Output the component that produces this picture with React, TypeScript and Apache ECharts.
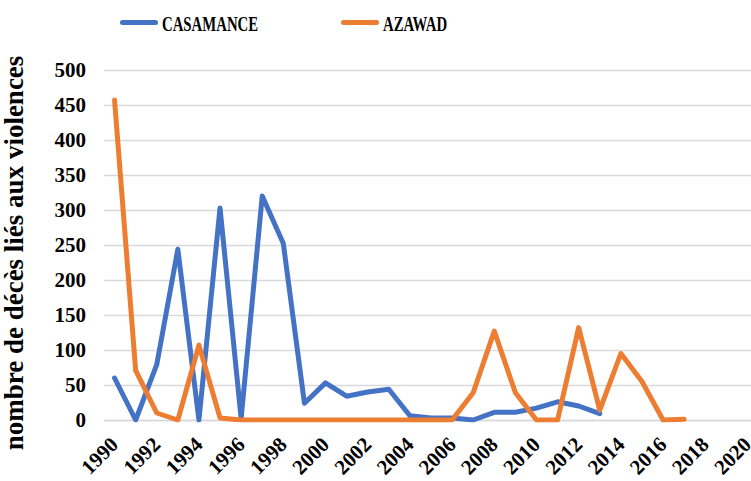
import React, { useEffect, useRef } from "react";
import * as echarts from "echarts";

const years: string[] = [];
for (let y = 1990; y <= 2020; y++) years.push(String(y));

const casamance = [60, 0, 79, 244, 0, 303, 2, 320, 252, 24, 53, 34, 40, 44, 6, 3, 3, 0, 11, 11, 17, 26, 20, 9];
const azawad = [457, 71, 10, 0, 107, 3, 0, 0, 0, 0, 0, 0, 0, 0, 0, 0, 0, 39, 127, 39, 0, 0, 132, 14, 95, 55, 0, 1];

const seriesNames = ["CASAMANCE", "AZAWAD"];
const seriesColors = ["#4472C4", "#ED7D31"];
const yAxisTitle = "nombre de décès liés aux violences";

const FONT = "Liberation Serif";

export default function App() {
  const ref = useRef<HTMLDivElement>(null);
  useEffect(() => {
    document.body.style.margin = "0";
    const chart = echarts.init(ref.current!, null, { renderer: "svg" });
    const legendX = [120, 341];
    const legendGraphics: any[] = [];
    seriesNames.forEach((name, i) => {
      legendGraphics.push({
        type: "rect",
        shape: { x: legendX[i], y: 20, width: 38, height: 5, r: 2.5 },
        style: { fill: seriesColors[i] },
      });
      legendGraphics.push({
        type: "text",
        x: legendX[i] + 42,
        y: 24,
        scaleX: 0.74,
        style: {
          text: name,
          fontFamily: FONT,
          fontWeight: "bold",
          fontSize: 20,
          fill: "#000",
          textAlign: "left",
          textVerticalAlign: "middle",
        },
      });
    });
    chart.setOption({
      animation: false,
      backgroundColor: "#ffffff",
      textStyle: { fontFamily: FONT },
      graphic: legendGraphics,
      grid: { left: 104, top: 70, width: 654, height: 350, containLabel: false, outerBoundsMode: "none" },
      xAxis: {
        type: "category",
        data: years,
        boundaryGap: true,
        axisLine: { show: true, lineStyle: { color: "#D9D9D9", width: 1.3 } },
        axisTick: { show: false },
        axisLabel: {
          interval: 1,
          rotate: 45,
          margin: 21,
          fontFamily: FONT,
          fontWeight: "bold",
          fontSize: 21,
          color: "#000",
        },
        splitLine: { show: false },
      },
      yAxis: {
        type: "value",
        min: 0,
        max: 500,
        interval: 50,
        name: yAxisTitle,
        nameLocation: "middle",
        nameRotate: 90,
        nameGap: 77,
        nameTextStyle: { fontFamily: FONT, fontWeight: "bold", fontSize: 27, color: "#000", padding: [0, 16, 0, 0] },
        axisLine: { show: false },
        axisTick: { show: false },
        axisLabel: { margin: 18, fontFamily: FONT, fontWeight: "bold", fontSize: 21, color: "#000" },
        splitLine: { lineStyle: { color: "#D9D9D9", width: 1.3 } },
      },
      series: [
        {
          name: seriesNames[0],
          type: "line",
          data: casamance,
          showSymbol: false,
          symbol: "none",
          color: seriesColors[0],
          lineStyle: { width: 5, color: seriesColors[0], cap: "round", join: "round" },
        },
        {
          name: seriesNames[1],
          type: "line",
          data: azawad,
          showSymbol: false,
          symbol: "none",
          color: seriesColors[1],
          lineStyle: { width: 5, color: seriesColors[1], cap: "round", join: "round" },
        },
      ],
    });
    return () => chart.dispose();
  }, []);
  return <div ref={ref} style={{ width: 751, height: 481 }} />;
}
